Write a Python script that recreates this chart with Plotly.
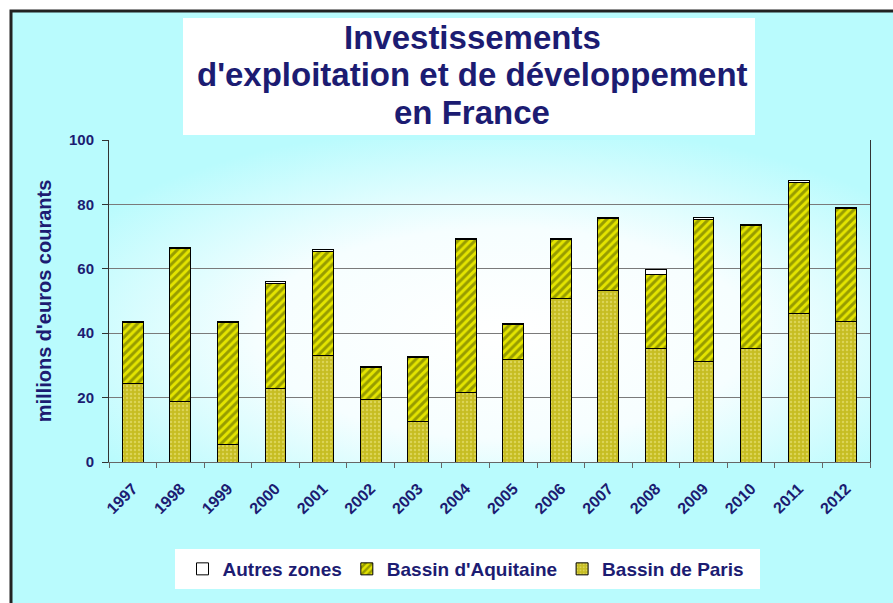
import base64
import plotly.graph_objects as go

# Investissements (millions d'euros courants)
annees = [str(a) for a in range(1997, 2013)]
bassin_paris = [24.4, 18.7, 5.5, 22.9, 33.2, 19.3, 12.5, 21.6, 31.7, 50.8, 53.4, 35.1, 31.2, 35.1, 46.2, 43.6]
bassin_aquitaine = [18.9, 47.7, 37.8, 32.4, 32.1, 10.0, 20.1, 47.4, 10.9, 18.4, 22.2, 23.2, 44.1, 38.3, 40.7, 35.1]
autres_zones = [0.3, 0.3, 0.3, 0.7, 0.8, 0.3, 0.3, 0.3, 0.3, 0.3, 0.4, 1.5, 0.6, 0.4, 0.4, 0.3]

titre = ["Investissements", "d'exploitation et de développement", "en France"]

BLEU = "#1c1c72"
CYAN = "#b9fbfd"
POLICE = "Liberation Sans, Arial, sans-serif"

W, H = 893, 603
L, R, T, B = 109, 870, 140, 462  # zone de tracé en pixels


def px_x(x):
    return (x - L) / (R - L)


def px_y(y):
    return (B - y) / (B - T)


# dégradé radial blanc -> cyan derrière la zone de tracé
svg = f"""<svg xmlns='http://www.w3.org/2000/svg' width='761' height='322' preserveAspectRatio='none'>
<defs><radialGradient id='g' cx='52%' cy='60%' r='65%'>
<stop offset='0' stop-color='#ffffff'/><stop offset='0.5' stop-color='#f6feff'/>
<stop offset='1' stop-color='{CYAN}'/></radialGradient></defs>
<rect width='761' height='322' fill='url(#g)'/></svg>"""
fond = "data:image/svg+xml;base64," + base64.b64encode(svg.encode()).decode()

fig = go.Figure()
fig.add_trace(go.Bar(
    x=annees, y=bassin_paris, name="Bassin de Paris",
    marker=dict(color="#c6bd22", line=dict(color="black", width=1),
                pattern=dict(shape=".", fgcolor="#efe98a", bgcolor="#c6bd22", size=4, solidity=0.3)),
))
fig.add_trace(go.Bar(
    x=annees, y=bassin_aquitaine, name="Bassin d'Aquitaine",
    marker=dict(color="#e4e400", line=dict(color="black", width=1),
                pattern=dict(shape="/", fgcolor="#4a5400", bgcolor="#e4e400", size=6, solidity=0.5)),
))
fig.add_trace(go.Bar(
    x=annees, y=autres_zones, name="Autres zones",
    marker=dict(color="white", line=dict(color="black", width=1)),
))

shapes = [
    # bande blanche hors cadre
    dict(type="rect", xref="paper", yref="paper", x0=px_x(-5), x1=px_x(10), y0=px_y(620), y1=px_y(-5),
         fillcolor="white", line=dict(width=0), layer="below"),
    dict(type="rect", xref="paper", yref="paper", x0=px_x(-5), x1=px_x(900), y0=px_y(10), y1=px_y(-5),
         fillcolor="white", line=dict(width=0), layer="below"),
    # cadre noir
    dict(type="rect", xref="paper", yref="paper", x0=px_x(11), x1=px_x(905), y0=px_y(620), y1=px_y(11),
         fillcolor="rgba(0,0,0,0)", line=dict(color="#222222", width=3), layer="below"),
    # boîte du titre
    dict(type="rect", xref="paper", yref="paper", x0=px_x(183), x1=px_x(755), y0=px_y(135), y1=px_y(18),
         fillcolor="white", line=dict(width=0), layer="below"),
    # boîte de la légende
    dict(type="rect", xref="paper", yref="paper", x0=px_x(175), x1=px_x(760), y0=px_y(589), y1=px_y(549),
         fillcolor="white", line=dict(width=0), layer="below"),
]

annotations = [
    dict(text=ligne, xref="paper", yref="paper", x=px_x(472), y=px_y(yc),
         xanchor="center", yanchor="middle", showarrow=False,
         font=dict(size=33, family=POLICE, color=BLEU, weight="bold"))
    for ligne, yc in zip(titre, [38, 75, 112])
]

fig.update_layout(
    width=W, height=H,
    margin=dict(l=L, r=W - R, t=T, b=H - B, autoexpand=False),
    paper_bgcolor=CYAN,
    plot_bgcolor="rgba(0,0,0,0)",
    font=dict(family=POLICE, color=BLEU, weight="bold"),
    barmode="stack",
    bargap=0.56,
    showlegend=True,
    legend=dict(
        orientation="h", traceorder="reversed",
        x=px_x(466), xanchor="center", y=px_y(569), yanchor="middle",
        bgcolor="rgba(0,0,0,0)", font=dict(size=19, color=BLEU, weight="bold"),
        itemwidth=30,
    ),
    xaxis=dict(
        type="category", tickangle=-45, tickson="boundaries",
        ticks="outside", ticklen=5, tickcolor="#666666", ticklabelstandoff=10,
        showline=True, linecolor="#666666", linewidth=1,
        tickfont=dict(size=16, color=BLEU, weight="bold"),
    ),
    yaxis=dict(
        range=[0, 100], dtick=20, ticks="outside", ticklen=6, tickcolor="#333333", ticklabelstandoff=5,
        showline=True, linecolor="#333333", linewidth=1, mirror=True,
        showgrid=True, gridcolor="#7a7a7a", gridwidth=1, zeroline=False,
        tickfont=dict(size=15, color=BLEU, weight="bold"),
        title=dict(text="millions d'euros courants", standoff=11,
                   font=dict(size=20, color=BLEU, weight="bold")),
    ),
    shapes=shapes,
    annotations=annotations,
    images=[dict(source=fond, xref="paper", yref="paper", x=0, y=1, sizex=1, sizey=1,
                 xanchor="left", yanchor="top", sizing="stretch", layer="below")],
)

fig.write_html("out.html", config={"displayModeBar": False},
               post_script="document.body.style.margin = '0';")
